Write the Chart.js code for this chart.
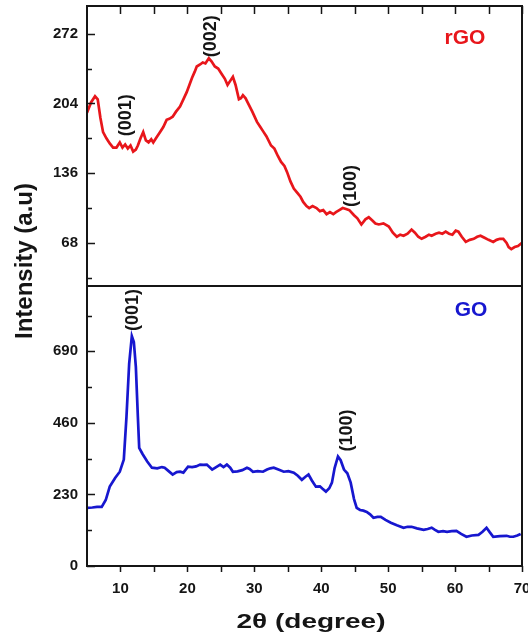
<!DOCTYPE html>
<html>
<head>
<meta charset="utf-8">
<script src="https://cdn.jsdelivr.net/npm/chart.js@4.4.0/dist/chart.umd.min.js"></script>
<style>
html, body { margin: 0; padding: 0; background: #fff; }
#wrap { width: 528px; height: 637px; }
</style>
</head>
<body>
<div id="wrap"><canvas id="xrd" width="528" height="637"></canvas></div>
<script>
// rGO pattern (top panel)
const rgoAngle = [5.0, 5.6, 6.2, 6.6, 7.0, 7.4, 7.9, 8.4, 8.9, 9.4, 9.9, 10.3, 10.7, 11.1, 11.5, 11.9, 12.3, 12.6, 13.0, 13.4,
    13.8, 14.2, 14.6, 14.9, 15.4, 15.9, 16.4, 16.9, 17.3, 17.8, 18.3, 18.9, 19.4, 19.9, 20.3, 20.7, 21.1, 21.4, 21.9, 22.3,
    22.7, 23.2, 23.6, 24.1, 24.6, 25.1, 25.6, 26.0, 26.4, 26.8, 27.2, 27.7, 28.0, 28.3, 28.7, 29.0, 29.7, 30.4, 30.9, 31.3,
    31.8, 32.5, 33.0, 33.5, 34.0, 34.5, 34.9, 35.4, 35.9, 36.4, 36.9, 37.3, 37.8, 38.2, 38.7, 39.3, 39.8, 40.3, 40.8, 41.3,
    41.8, 42.2, 42.7, 43.2, 43.7, 44.2, 44.9, 45.4, 46.0, 46.6, 47.1, 47.6, 48.1, 48.6, 49.3, 50.1, 50.7, 51.3, 51.8, 52.3,
    52.9, 53.5, 54.0, 54.5, 55.0, 55.6, 56.1, 56.5, 57.1, 57.6, 58.1, 58.6, 59.1, 59.6, 60.1, 60.5, 61.0, 61.6, 62.2, 62.8,
    63.3, 63.8, 64.4, 65.0, 65.7, 66.2, 66.7, 67.2, 67.7, 68.0, 68.4, 68.9, 69.4, 70.0];
const rgoIntensity = [195, 205, 211, 208, 190, 176, 170, 165, 161, 161, 166, 161, 164, 160, 163, 157, 159, 163, 170, 176,
    168, 166, 169, 166, 171, 176, 181, 188, 189, 191, 196, 201, 208, 215, 222, 229, 235, 240, 242, 244,
    243, 248, 245, 240, 238, 233, 228, 222, 226, 230, 222, 208, 209, 212, 209, 205, 196, 186, 181, 177,
    172, 163, 160, 153, 147, 143, 137, 128, 121, 117, 113, 108, 104, 102, 104, 102, 99, 100, 96, 98,
    96, 98, 100, 102, 101, 100, 95, 92, 86, 91, 93, 90, 87, 86, 87, 84, 78, 74, 76, 75,
    77, 81, 78, 74, 72, 74, 76, 75, 77, 78, 77, 79, 77, 76, 80, 79, 74, 69, 71, 72,
    74, 75, 73, 71, 69, 71, 72, 72, 68, 64, 62, 64, 65, 68];

// GO pattern (bottom panel)
const goAngle = [5.0, 5.8, 6.5, 7.2, 7.8, 8.4, 9.2, 9.9, 10.5, 10.9, 11.3, 11.7, 12.0, 12.3, 12.6, 12.8, 13.3, 14.0, 14.7, 15.5,
    16.2, 16.6, 17.2, 17.8, 18.4, 18.9, 19.4, 20.1, 20.7, 21.3, 21.9, 22.4, 22.9, 23.7, 24.3, 24.9, 25.4, 25.9, 26.4, 26.8,
    27.5, 28.2, 28.9, 29.3, 29.8, 30.5, 31.3, 31.9, 32.4, 32.9, 33.6, 34.4, 35.1, 35.9, 36.5, 37.1, 37.6, 38.1, 38.6, 39.2,
    39.8, 40.2, 40.7, 41.2, 41.6, 42.0, 42.5, 42.9, 43.4, 43.9, 44.4, 44.9, 45.3, 45.8, 46.3, 46.8, 47.3, 47.8, 48.4, 48.9,
    49.6, 50.4, 51.3, 52.3, 52.9, 53.5, 54.3, 55.3, 55.9, 56.5, 57.0, 57.5, 58.2, 58.8, 59.5, 60.2, 60.9, 61.7, 62.5, 63.5,
    64.1, 64.7, 65.2, 65.7, 66.7, 67.7, 68.2, 68.7, 69.3, 69.8];
const goIntensity = [187, 188, 190, 190, 212, 255, 283, 303, 342, 480, 650, 739, 720, 640, 480, 380, 360, 336, 316, 314,
    318, 316, 305, 294, 302, 303, 300, 319, 318, 320, 326, 325, 326, 310, 318, 326, 318, 326, 316, 303,
    304, 308, 316, 312, 303, 305, 303, 310, 314, 316, 310, 303, 305, 300, 290, 277, 286, 294, 275, 255,
    256, 248, 239, 250, 268, 315, 352, 340, 310, 298, 268, 215, 187, 180, 178, 174, 166, 155, 158, 158,
    148, 139, 131, 123, 126, 126, 121, 116, 119, 123, 116, 110, 112, 110, 112, 113, 103, 94, 98, 100,
    110, 123, 108, 94, 96, 97, 94, 94, 98, 103];

// Axis ticks
const xTicks = [10, 20, 30, 40, 50, 60, 70];
const xMinor = [15, 25, 35, 45, 55, 65];
const rgoTicks = [68, 136, 204, 272];
const rgoMinor = [34, 102, 170, 238];
const goTicks = [0, 230, 460, 690];
const goMinor = [115, 345, 575, 805];

// Peak labels: text, 2theta, intensity where the label starts
const rgoPeaks = [['(001)', 10.8, 172], ['(002)', 23.5, 249], ['(100)', 44.4, 103]];
const goPeaks = [['(001)', 11.9, 755], ['(100)', 43.8, 368]];

const INK = '#151515';
const RED = '#e8161b';
const BLUE = '#1717cf';

Chart.defaults.color = INK;
Chart.defaults.font.family = 'Arial, "Liberation Sans", sans-serif';

function toPoints(xs, ys) {
    return xs.map((x, i) => ({ x: x, y: ys[i] }));
}

function yScale(min, max, ticks) {
    return {
        type: 'linear',
        position: 'left',
        stack: 'xrd',
        stackWeight: 1,
        min: min,
        max: max,
        grid: { display: false, drawTicks: false },
        border: { display: false },
        ticks: { font: { size: 15, weight: 'bold' }, padding: 9 },
        afterBuildTicks: s => { s.ticks = ticks.map(v => ({ value: v })); },
        afterFit: s => { s.width = 87; s.paddingTop = 0; s.paddingBottom = 0; }
    };
}

// Frame, inward ticks, titles and peak labels
const decorations = {
    id: 'decorations',
    afterDraw(chart) {
        const { ctx, chartArea: a, scales } = chart;
        const x = scales.x, yt = scales.yTop, yb = scales.yBot;
        const split = Math.min(yt.bottom, yb.bottom);
        ctx.save();
        ctx.strokeStyle = INK;
        ctx.lineWidth = 2;
        ctx.strokeRect(a.left, a.top, a.right - a.left, a.bottom - a.top);
        ctx.beginPath();
        ctx.moveTo(a.left, split);
        ctx.lineTo(a.right, split);
        ctx.stroke();

        ctx.lineWidth = 1.5;
        ctx.beginPath();
        const yTick = (s, vals, len) => vals.forEach(v => {
            const p = Math.round(s.getPixelForValue(v)) + 0.5;
            ctx.moveTo(a.left, p); ctx.lineTo(a.left + len, p);
        });
        yTick(yt, rgoTicks, 8); yTick(yt, rgoMinor, 5);
        yTick(yb, goTicks, 8); yTick(yb, goMinor, 5);
        xTicks.concat(xMinor).forEach(v => {
            const p = Math.round(x.getPixelForValue(v)) + 0.5;
            ctx.moveTo(p, a.top); ctx.lineTo(p, a.top + 8);
            ctx.moveTo(p, a.bottom); ctx.lineTo(p, a.bottom + 6);
        });
        ctx.stroke();

        // peak labels
        ctx.fillStyle = INK;
        ctx.font = 'bold 18px Arial, "Liberation Sans", sans-serif';
        ctx.textAlign = 'left';
        ctx.textBaseline = 'middle';
        const peak = (s, list) => list.forEach(([t, xv, yv]) => {
            ctx.save();
            ctx.translate(x.getPixelForValue(xv), s.getPixelForValue(yv));
            ctx.rotate(-Math.PI / 2);
            ctx.fillText(t, 0, 0);
            ctx.restore();
        });
        peak(yt, rgoPeaks);
        peak(yb, goPeaks);

        // sample names
        ctx.font = 'bold 21px Arial, "Liberation Sans", sans-serif';
        ctx.textAlign = 'center';
        ctx.fillStyle = RED;
        ctx.fillText('rGO', 465, 38);
        ctx.fillStyle = BLUE;
        ctx.fillText('GO', 471, 310);

        // axis titles
        ctx.fillStyle = INK;
        ctx.save();
        ctx.translate(25, 261);
        ctx.rotate(-Math.PI / 2);
        ctx.font = 'bold 24px Arial, "Liberation Sans", sans-serif';
        ctx.fillText('Intensity (a.u)', 0, 0);
        ctx.restore();

        ctx.save();
        ctx.translate(311, 622);
        ctx.scale(1.4, 1);
        ctx.font = 'bold 20px Arial, "Liberation Sans", sans-serif';
        ctx.fillText('2θ (degree)', 0, 0);
        ctx.restore();

        ctx.restore();
    }
};

new Chart(document.getElementById('xrd'), {
    type: 'line',
    data: {
        datasets: [{
            label: 'rGO',
            data: toPoints(rgoAngle, rgoIntensity),
            yAxisID: 'yTop',
            borderColor: RED,
            borderWidth: 2.7,
            pointRadius: 0,
            tension: 0
        }, {
            label: 'GO',
            data: toPoints(goAngle, goIntensity),
            yAxisID: 'yBot',
            borderColor: BLUE,
            borderWidth: 2.7,
            pointRadius: 0,
            tension: 0
        }]
    },
    options: {
        responsive: false,
        animation: false,
        devicePixelRatio: 1,
        layout: { padding: { left: 0, top: 6, right: 6, bottom: 0 } },
        plugins: { legend: { display: false }, tooltip: { enabled: false } },
        scales: {
            x: {
                type: 'linear',
                min: 5,
                max: 70,
                grid: { display: false, drawTicks: false },
                border: { display: false },
                ticks: { font: { size: 15, weight: 'bold' }, padding: 14, maxRotation: 0, autoSkip: false },
                afterBuildTicks: s => { s.ticks = xTicks.map(v => ({ value: v })); },
                afterFit: s => { s.height = 71; s.paddingLeft = 0; s.paddingRight = 0; }
            },
            // in a stack the first listed axis sits at the bottom
            yBot: yScale(0, 900, goTicks),
            yTop: yScale(26, 299, rgoTicks)
        }
    },
    plugins: [decorations]
});
</script>
</body>
</html>
